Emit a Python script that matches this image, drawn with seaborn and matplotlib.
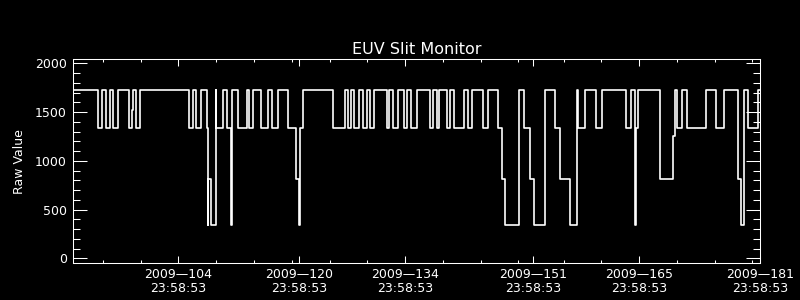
import matplotlib
matplotlib.use("Agg")
import matplotlib.pyplot as plt
import numpy as np
import pandas as pd
import seaborn as sns
from matplotlib.ticker import FixedLocator, MultipleLocator

# ---------------- data ----------------
title = "EUV Slit Monitor"
y_label = "Raw Value"

# days since 2009-090 23:58:53 at which the monitor changes level
step_days = [
    0.00, 3.39, 3.92, 4.37, 4.98, 5.38, 5.96, 7.41, 7.85, 8.02, 8.42, 8.95,
    15.33, 15.97, 16.36, 16.95, 17.82, 17.85, 17.89, 18.35, 18.91, 19.00,
    19.86, 20.47, 21.00, 21.05, 21.85, 23.08, 23.38, 23.91, 24.97, 25.90,
    26.35, 27.22, 28.55, 29.60, 29.99, 30.04, 30.53, 34.50, 36.01, 36.41,
    36.85, 37.28, 37.95, 38.40, 38.93, 39.32, 39.93, 41.57, 41.92, 42.37,
    43.11, 43.82, 44.22, 44.83, 45.65, 47.27, 47.66, 48.27, 48.54, 49.52,
    49.91, 50.52, 51.85, 52.34, 52.91, 54.28, 54.95, 56.35, 56.88, 57.28,
    59.13, 59.79, 60.59, 61.08, 62.57, 63.90, 64.56, 65.88, 66.81, 66.94,
    67.87, 69.32, 70.12, 73.30, 73.88, 74.49, 74.54, 74.89, 77.80, 79.53,
    79.70, 79.97, 80.63, 81.37, 83.81, 85.21, 86.19, 88.12, 88.52, 88.84,
    89.45, 90.77, 91.00,
]
# raw value from each change onwards
step_values = [
    1725, 1335, 1725, 1335, 1725, 1335, 1725, 1335, 1520, 1725, 1335, 1725,
    1335, 1725, 1335, 1725, 1335, 340, 815, 340, 1725, 1335,
    1725, 1335, 340, 1725, 1335, 1725, 1335, 1725, 1335, 1725,
    1335, 1725, 1335, 815, 340, 1335, 1725, 1335, 1725, 1335,
    1725, 1335, 1725, 1335, 1725, 1335, 1725, 1335, 1725, 1335,
    1725, 1335, 1725, 1335, 1725, 1335, 1725, 1335, 1725, 1335,
    1725, 1335, 1725, 1335, 1725, 1335, 1725, 1335, 815, 340,
    1725, 1335, 815, 340, 1725, 1335, 815, 340, 1725, 1335,
    1725, 1335, 1725, 1335, 1725, 340, 1335, 1725, 815, 1250,
    1725, 1335, 1725, 1335, 1725, 1335, 1725, 815, 340, 1725,
    1335, 1725, 1725,
]

tick_days = [14, 30, 44, 61, 75, 91]
tick_labels = [
    "2009\u2014104\n23:58:53",
    "2009\u2014120\n23:58:53",
    "2009\u2014134\n23:58:53",
    "2009\u2014151\n23:58:53",
    "2009\u2014165\n23:58:53",
    "2009\u2014181\n23:58:53",
]
minor_tick_days = [4, 9, 14, 19, 24, 29, 34, 39, 44, 49, 54, 59,
                   65, 70, 75, 80, 85, 90]
y_ticks = [0, 500, 1000, 1500, 2000]

df = pd.DataFrame({"day": step_days, "value": step_values})

# ---------------- style ----------------
sns.set_theme(style="dark", rc={
    "axes.facecolor": "black",
    "figure.facecolor": "black",
    "savefig.facecolor": "black",
    "axes.edgecolor": "white",
    "axes.labelcolor": "white",
    "text.color": "white",
    "xtick.color": "white",
    "ytick.color": "white",
    "axes.grid": False,
})
plt.rcParams["font.family"] = ["DejaVu Sans"]

fig = plt.figure(figsize=(8, 3), dpi=100)
ax = fig.add_axes([0.0909, 0.1223, 0.8591, 0.68])

sns.lineplot(data=df, x="day", y="value", drawstyle="steps-post",
             estimator=None, sort=False, color="white", linewidth=1.2,
             ax=ax, legend=False)

ax.set_xlim(0, 91)
ax.set_ylim(-51, 2041)

ax.xaxis.set_major_locator(FixedLocator(tick_days))
ax.set_xticklabels(tick_labels)
ax.xaxis.set_minor_locator(FixedLocator(minor_tick_days))
ax.yaxis.set_major_locator(FixedLocator(y_ticks))
ax.yaxis.set_minor_locator(MultipleLocator(100))

for s in ax.spines.values():
    s.set_visible(True)
    s.set_color("white")
    s.set_linewidth(0.75)

ax.tick_params(axis="y", which="major", direction="in", length=10, width=0.75,
               left=True, right=True, labelsize=9, pad=4.3)
ax.tick_params(axis="y", which="minor", direction="in", length=5, width=0.75,
               left=True, right=True)
ax.tick_params(axis="x", which="major", direction="in", length=4.8, width=0.75,
               top=True, bottom=True, labelsize=9, pad=3.5)
ax.tick_params(axis="x", which="minor", direction="in", length=2.4, width=0.75,
               top=True, bottom=True)
for lab in ax.get_xticklabels():
    lab.set_linespacing(1.05)

ax.set_xlabel("")
ax.set_ylabel(y_label, fontsize=9, labelpad=6.5)
ax.set_title(title, fontsize=11.5, pad=3.8, color="white")

fig.savefig("out.png", dpi=100, facecolor="black")
